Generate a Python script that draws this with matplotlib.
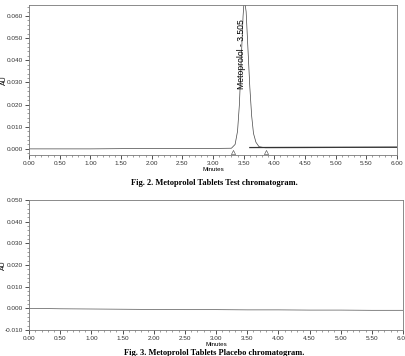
import matplotlib.pyplot as plt
from matplotlib.ticker import MultipleLocator

# Fig. 2 - test chromatogram trace (minutes, AU)
test_t = [0.0, 1.0, 2.0, 3.0, 3.30, 3.36, 3.40, 3.43, 3.46, 3.49, 3.51, 3.54,
          3.57, 3.60, 3.63, 3.66, 3.70, 3.75, 3.85, 4.5, 5.5, 6.0]
test_au = [0.0, 0.0, 0.0002, 0.0002, 0.0003, 0.002, 0.008, 0.020, 0.040, 0.060, 0.068, 0.062,
           0.045, 0.028, 0.015, 0.007, 0.003, 0.001, 0.0005, 0.0005, 0.0006, 0.0006]
peak_marks_t = [3.33, 3.87]
peak_label = "Metoprolol - 3.505"

# Fig. 3 - placebo trace
plac_t = [0.0, 0.5, 1.0, 1.5, 2.0, 2.5, 3.0, 3.5, 4.0, 4.5, 5.0, 5.5, 6.0]
plac_au = [0.0, -0.0002, -0.0003, -0.0004, -0.0005, -0.0006, -0.0006, -0.0007,
           -0.0007, -0.0008, -0.0008, -0.0009, -0.0009]

tick_font = dict(family="Liberation Sans", size=4.6)
cap_font = dict(family="Liberation Serif", size=6, weight="bold")

fig = plt.figure(figsize=(4.05, 3.56), dpi=100)
ax1 = fig.add_axes([0.072, 0.565, 0.908, 0.421])
ax2 = fig.add_axes([0.072, 0.073, 0.923, 0.365])

def style(ax, ylo, yhi, step):
    ax.set_xlim(0, 6)
    ax.set_ylim(ylo, yhi)
    ax.xaxis.set_major_locator(MultipleLocator(0.5))
    ax.xaxis.set_minor_locator(MultipleLocator(0.1))
    ax.yaxis.set_major_locator(MultipleLocator(step))
    ax.yaxis.set_minor_locator(MultipleLocator(0.002))
    ax.xaxis.set_major_formatter(lambda v, p: f"{v:.2f}")
    ax.yaxis.set_major_formatter(lambda v, p: f"{v:.3f}")
    ax.tick_params(which="major", length=3, width=0.6, pad=1.5, colors="#333333")
    ax.tick_params(which="minor", length=1.5, width=0.4, colors="#555555")
    for lab in ax.get_xticklabels() + ax.get_yticklabels():
        lab.set_fontfamily(tick_font["family"])
        lab.set_fontsize(tick_font["size"])
    for s in ax.spines.values():
        s.set_linewidth(0.6)
        s.set_color("#777777")
    ax.set_xlabel("Minutes", fontsize=4.5, family="Liberation Sans", labelpad=0.5)
    ax.set_ylabel("AU", fontsize=5, family="Liberation Sans")
    ax.yaxis.set_label_coords(-0.058, 0.5)

style(ax1, -0.0027, 0.065, 0.01)
ax1.plot(test_t, test_au, color="#444444", lw=0.5)
ax1.plot([3.6, 6.0], [0.0006, 0.0008], color="#333333", lw=0.9)
ax1.plot(peak_marks_t, [-0.0012, -0.0012], ls="none", marker="^", ms=3,
         mfc="white", mec="#444444", mew=0.4)
ax1.text(3.46, 0.043, peak_label, rotation=90, ha="center", va="center",
         fontsize=6.2, family="Liberation Sans")

style(ax2, -0.010, 0.050, 0.01)
ax2.plot(plac_t, plac_au, color="#555555", lw=0.5)

fig.text(0.53, 0.486, "Fig. 2. Metoprolol Tablets Test chromatogram.",
         ha="center", va="center", **cap_font)
fig.text(0.53, 0.008, "Fig. 3. Metoprolol Tablets Placebo chromatogram.",
         ha="center", va="center", **cap_font)

fig.savefig("out.png", dpi=100)
